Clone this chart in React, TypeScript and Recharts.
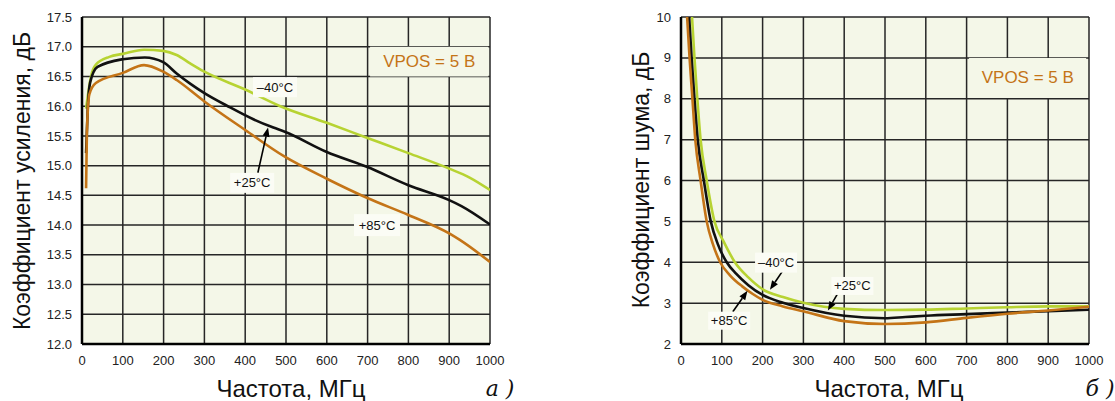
import React from "react";
import {
  LineChart,
  Line,
  XAxis,
  YAxis,
  CartesianGrid,
  ReferenceArea,
  ReferenceDot,
  ReferenceLine,
} from "recharts";

// ---- axis ticks ----
const freqTicks = [0, 100, 200, 300, 400, 500, 600, 700, 800, 900, 1000];
const gainTicks = [12, 12.5, 13, 13.5, 14, 14.5, 15, 15.5, 16, 16.5, 17, 17.5];
const noiseTicks = [2, 3, 4, 5, 6, 7, 8, 9, 10];

// ---- gain (chart a) ----
const gainFreqM40 = [10, 22, 34, 67, 100, 152, 199, 232, 265, 300, 400, 486, 600, 698, 800, 900, 950, 1000];
const gainM40 = [15.96, 16.5, 16.7, 16.83, 16.88, 16.95, 16.93, 16.86, 16.72, 16.58, 16.28, 16.0, 15.72, 15.47, 15.21, 14.95, 14.8, 14.59];

const gainFreqP25 = [10, 14, 20, 38, 100, 154, 199, 232, 265, 300, 363, 420, 469, 497, 600, 698, 800, 900, 930, 1000];
const gainP25 = [15.21, 15.95, 16.4, 16.66, 16.79, 16.82, 16.74, 16.55, 16.38, 16.22, 15.98, 15.78, 15.64, 15.57, 15.23, 14.98, 14.67, 14.42, 14.32, 14.01];

const gainFreqP85 = [10, 12, 18, 34, 100, 152, 199, 232, 300, 400, 497, 600, 698, 800, 900, 926, 1000];
const gainP85 = [14.62, 15.55, 16.2, 16.39, 16.56, 16.69, 16.58, 16.44, 16.08, 15.6, 15.15, 14.78, 14.46, 14.17, 13.86, 13.75, 13.38];

// ---- noise figure (chart b) ----
const noiseFreqM40 = [27, 33, 40, 48, 63, 82, 105, 132, 165, 200, 250, 300, 400, 500, 600, 700, 800, 900, 1000];
const noiseM40 = [10, 9, 8, 7, 6, 5, 4.5, 4, 3.63, 3.34, 3.15, 3.01, 2.86, 2.83, 2.84, 2.87, 2.9, 2.92, 2.92];

const noiseFreqP25 = [20, 26, 33, 41, 56, 73, 90, 112, 135, 165, 200, 250, 300, 400, 500, 550, 600, 700, 800, 900, 1000];
const noiseP25 = [10, 9, 8, 7, 6, 5, 4.45, 4, 3.72, 3.44, 3.2, 3.01, 2.88, 2.69, 2.63, 2.66, 2.69, 2.73, 2.77, 2.8, 2.84];

const noiseFreqP85 = [15, 21, 28, 35, 48, 63, 78, 96, 120, 150, 175, 200, 250, 300, 400, 500, 600, 700, 800, 900, 1000];
const noiseP85 = [10, 9, 8, 7, 6, 5, 4.45, 4, 3.68, 3.41, 3.23, 3.08, 2.92, 2.8, 2.56, 2.49, 2.53, 2.64, 2.74, 2.82, 2.91];

const zip = (fs: number[], vs: number[]) => fs.map((f, i) => ({ f, v: vs[i] }));

const GREEN = "#b7d332";
const BLACK = "#111111";
const ORANGE = "#c47417";
const PLOT_BG = "#f4f7e8";
const BOX_BG = "#fbfcf5";
const FONT = "'Liberation Sans', Arial, Helvetica, sans-serif";

const tickStyle = { fill: "#222", fontSize: 13, fontFamily: FONT };

const boxLabel = (text: string, w: number, h: number, color = "#111", size = 13, bg = BOX_BG) =>
  (props: any) => {
    const { cx, cy } = props;
    return (
      <g>
        <rect x={cx - w / 2} y={cy - h / 2} width={w} height={h} fill={bg} />
        <text
          x={cx}
          y={cy}
          textAnchor="middle"
          dominantBaseline="central"
          fontSize={size}
          fontFamily={FONT}
          fill={color}
        >
          {text}
        </text>
      </g>
    );
  };

const arrowShape = (props: any) => {
  const { x1, y1, x2, y2 } = props;
  const dx = x2 - x1;
  const dy = y2 - y1;
  const len = Math.sqrt(dx * dx + dy * dy) || 1;
  const ux = dx / len;
  const uy = dy / len;
  const hl = 9;
  const hw = 3.5;
  const bx = x2 - ux * hl;
  const by = y2 - uy * hl;
  return (
    <g>
      <line x1={x1} y1={y1} x2={bx} y2={by} stroke="#000" strokeWidth={1.6} />
      <polygon
        points={`${x2},${y2} ${bx - uy * hw},${by + ux * hw} ${bx + uy * hw},${by - ux * hw}`}
        fill="#000"
      />
    </g>
  );
};

const gridProps = {
  stroke: "#262626",
  strokeWidth: 1.5,
  fill: PLOT_BG,
  fillOpacity: 1,
};

function GainChart() {
  return (
    <LineChart width={520} height={401} margin={{ top: 17, right: 30, left: 22, bottom: 27 }}>
      <CartesianGrid {...gridProps} />
      <XAxis
        dataKey="f"
        type="number"
        domain={[0, 1000]}
        ticks={freqTicks}
        allowDataOverflow
        interval={0}
        height={30}
        tickLine={false}
        axisLine={{ stroke: "#000", strokeWidth: 2.5 }}
        tick={tickStyle}
        tickMargin={6}
      />
      <YAxis
        type="number"
        domain={[12, 17.5]}
        ticks={gainTicks}
        allowDataOverflow
        interval={0}
        width={60}
        tickLine={false}
        axisLine={{ stroke: "#000", strokeWidth: 2.5 }}
        tick={tickStyle}
        tickMargin={4}
        tickFormatter={(v: number) => v.toFixed(1)}
      />
      <ReferenceArea x1={706} x2={996} y1={16.5} y2={17.0} fill={PLOT_BG} fillOpacity={1} stroke="none" />
      <ReferenceDot x={851} y={16.75} r={0} shape={boxLabel("VPOS = 5 B", 110, 20, ORANGE, 17, PLOT_BG)} />
      <ReferenceDot x={473} y={16.32} r={0} shape={boxLabel("–40°C", 44, 20)} />
      <ReferenceDot x={417} y={14.71} r={0} shape={boxLabel("+25°C", 44, 20)} />
      <ReferenceDot x={723} y={14.0} r={0} shape={boxLabel("+85°C", 46, 22)} />
      <Line data={zip(gainFreqM40, gainM40)} dataKey="v" type="monotone" stroke={GREEN} strokeWidth={2.6} dot={false} isAnimationActive={false} />
      <Line data={zip(gainFreqP25, gainP25)} dataKey="v" type="monotone" stroke={BLACK} strokeWidth={2.6} dot={false} isAnimationActive={false} />
      <Line data={zip(gainFreqP85, gainP85)} dataKey="v" type="monotone" stroke={ORANGE} strokeWidth={2.6} dot={false} isAnimationActive={false} />
      <ReferenceLine segment={[{ x: 431, y: 14.88 }, { x: 456, y: 15.64 }]} shape={arrowShape} />
    </LineChart>
  );
}

function NoiseChart() {
  return (
    <LineChart width={555} height={401} margin={{ top: 17, right: 26, left: 61, bottom: 27 }}>
      <CartesianGrid {...gridProps} />
      <XAxis
        dataKey="f"
        type="number"
        domain={[0, 1000]}
        ticks={freqTicks}
        allowDataOverflow
        interval={0}
        height={30}
        tickLine={false}
        axisLine={{ stroke: "#000", strokeWidth: 2.5 }}
        tick={tickStyle}
        tickMargin={6}
      />
      <YAxis
        type="number"
        domain={[2, 10]}
        ticks={noiseTicks}
        allowDataOverflow
        interval={0}
        width={60}
        tickLine={false}
        axisLine={{ stroke: "#000", strokeWidth: 2.5 }}
        tick={tickStyle}
        tickMargin={4}
      />
      <ReferenceArea x1={706} x2={993} y1={8.02} y2={9.0} fill={PLOT_BG} fillOpacity={1} stroke="none" />
      <ReferenceDot x={850} y={8.51} r={0} shape={boxLabel("VPOS = 5 B", 110, 20, ORANGE, 17, PLOT_BG)} />
      <ReferenceDot x={233} y={3.99} r={0} shape={boxLabel("–40°C", 42, 20)} />
      <ReferenceDot x={420} y={3.42} r={0} shape={boxLabel("+25°C", 42, 18)} />
      <ReferenceDot x={118} y={2.57} r={0} shape={boxLabel("+85°C", 42, 18)} />
      <Line data={zip(noiseFreqM40, noiseM40)} dataKey="v" type="monotone" stroke={GREEN} strokeWidth={2.6} dot={false} isAnimationActive={false} />
      <Line data={zip(noiseFreqP25, noiseP25)} dataKey="v" type="monotone" stroke={BLACK} strokeWidth={2.6} dot={false} isAnimationActive={false} />
      <Line data={zip(noiseFreqP85, noiseP85)} dataKey="v" type="monotone" stroke={ORANGE} strokeWidth={2.6} dot={false} isAnimationActive={false} />
      <ReferenceLine segment={[{ x: 248, y: 3.77 }, { x: 218, y: 3.33 }]} shape={arrowShape} />
      <ReferenceLine segment={[{ x: 385, y: 3.25 }, { x: 360, y: 2.82 }]} shape={arrowShape} />
      <ReferenceLine segment={[{ x: 127, y: 2.79 }, { x: 163, y: 3.3 }]} shape={arrowShape} />
    </LineChart>
  );
}

const titleStyle: React.CSSProperties = {
  position: "absolute",
  fontFamily: FONT,
  fontSize: 23,
  color: "#111",
  whiteSpace: "nowrap",
  lineHeight: "26px",
};

export default function App() {
  return (
    <div style={{ position: "absolute", left: 0, top: 0, width: 1115, height: 401, background: "#fff", overflow: "hidden" }}>
      <div style={{ position: "absolute", left: 0, top: 0 }}>
        <GainChart />
      </div>
      <div style={{ position: "absolute", left: 560, top: 0 }}>
        <NoiseChart />
      </div>
      {/* y titles */}
      <div style={{ ...titleStyle, left: 22, top: 181, transform: "translate(-50%, -50%) rotate(-90deg)" }}>
        Коэффициент усиления, дБ
      </div>
      <div style={{ ...titleStyle, left: 641, top: 180, transform: "translate(-50%, -50%) rotate(-90deg)" }}>
        Коэффициент шума, дБ
      </div>
      {/* x titles */}
      <div style={{ ...titleStyle, fontSize: 24, left: 291, top: 389, transform: "translate(-50%, -50%)" }}>Частота, МГц</div>
      <div style={{ ...titleStyle, fontSize: 24, left: 889, top: 389, transform: "translate(-50%, -50%)" }}>Частота, МГц</div>
      {/* panel markers */}
      <div style={{ ...titleStyle, fontFamily: "'DejaVu Serif', 'Liberation Serif', serif", fontStyle: "italic", fontSize: 22, left: 500, top: 389, transform: "translate(-50%, -50%)" }}>
        a )
      </div>
      <div style={{ ...titleStyle, fontFamily: "'DejaVu Serif', 'Liberation Serif', serif", fontStyle: "italic", fontSize: 22, left: 1100, top: 389, transform: "translate(-50%, -50%)" }}>
        б )
      </div>
    </div>
  );
}
